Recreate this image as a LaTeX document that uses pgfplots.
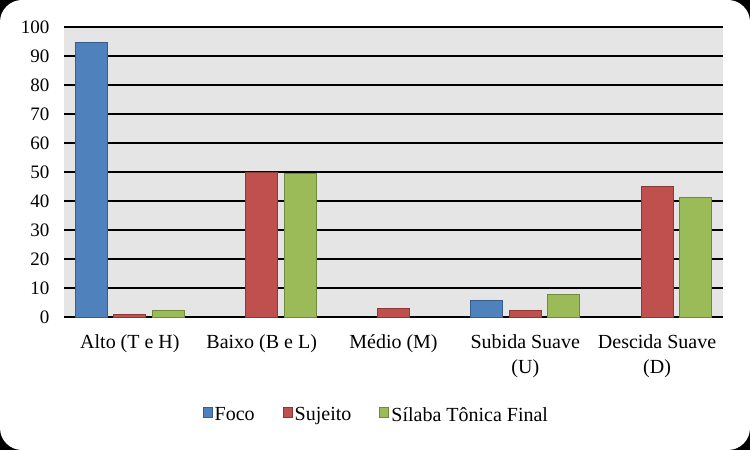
\documentclass[border=0pt]{standalone}
\usepackage{pgfplots}
\pgfplotsset{compat=1.18}
\usepackage{fontspec}
\setmainfont{Liberation Serif}
\definecolor{cblue}{HTML}{4F81BD}
\definecolor{cbluee}{HTML}{385D8A}
\definecolor{cred}{HTML}{C0504D}
\definecolor{credd}{HTML}{8C3836}
\definecolor{cgreen}{HTML}{9BBB59}
\definecolor{cgreenn}{HTML}{71893F}
\begin{document}
\begin{tikzpicture}[x=1pt,y=1pt]
\fill[black] (0,0) rectangle (750,450);
\fill[white, rounded corners=22pt] (0,0) rectangle (750,450);
\begin{axis}[
  at={(64pt,133pt)}, anchor=south west,
  scale only axis, width=659pt, height=290pt,
  ybar=6.5pt, bar width=32pt,
  xmin=-0.5, xmax=4.5, ymin=0, ymax=100,
  ytick={0,10,...,100},
  xtick={0,1,2,3,4},
  xticklabels={Alto (T e H), Baixo (B e L), Médio (M), {Subida Suave\\(U)}, {Descida Suave\\(D)}},
  xticklabel style={align=center, font=\fontsize{20}{25}\selectfont, yshift=-10pt},
  yticklabel style={font=\fontsize{19}{20}\selectfont, xshift=-11pt},
  /pgf/number format/assume math mode=true,
  axis line style={draw=none},
  tick style={draw=none},
  ymajorgrids,
  major grid style={black, line width=1.6pt},
  axis background/.style={fill=black!10},
  legend style={at={(0.474,-0.338)}, anchor=center, draw=none, fill=none,
    legend columns=3, font=\fontsize{20}{22}\selectfont,
    /tikz/every even column/.append style={column sep=26pt}},
  legend image code/.code={\draw[#1, line width=1pt] (0pt,-2pt) rectangle (9pt,8pt);},
]
\addplot[fill=cblue, draw=cbluee, line width=1pt] coordinates {(0,94.7) (3,5.6)};
\addplot[fill=cred, draw=credd, line width=1pt] coordinates {(0,1) (1,49.9) (2,2.9) (3,2.2) (4,45)};
\addplot[fill=cgreen, draw=cgreenn, line width=1pt] coordinates {(0,2.2) (1,49.5) (3,7.8) (4,41.1)};
\legend{Foco, Sujeito, Sílaba Tônica Final}
\end{axis}
\end{tikzpicture}
\end{document}
